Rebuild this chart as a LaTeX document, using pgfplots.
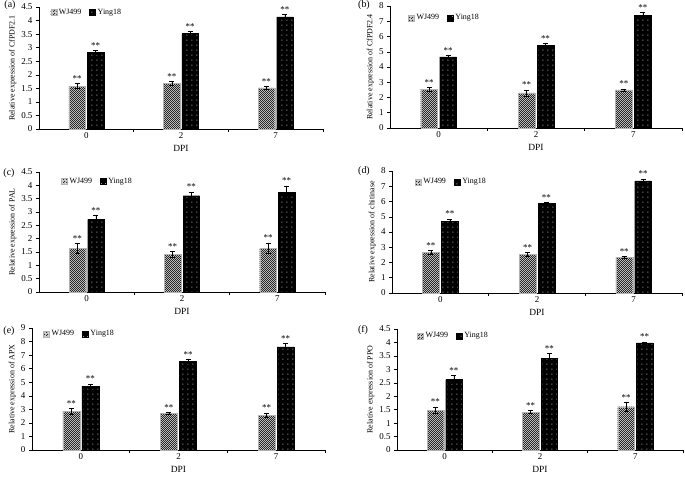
\documentclass[border=0pt]{standalone}
\usepackage{fontspec}
\setmainfont{Liberation Serif}
\usepackage{pgfplots}
\pgfplotsset{compat=1.18}
\usepackage{pgfplotstable}
\usetikzlibrary{patterns}

\pgfdeclarepatternformonly{checker}{\pgfpointorigin}{\pgfqpoint{2.4bp}{2.4bp}}{\pgfqpoint{2.4bp}{2.4bp}}{%
  \pgfpathrectangle{\pgfpointorigin}{\pgfqpoint{1.2bp}{1.2bp}}%
  \pgfpathrectangle{\pgfqpoint{1.2bp}{1.2bp}}{\pgfqpoint{1.2bp}{1.2bp}}%
  \pgfusepath{fill}}
\pgfdeclarepatternformonly{wdots}{\pgfpointorigin}{\pgfqpoint{4.5bp}{4.5bp}}{\pgfqpoint{4.5bp}{4.5bp}}{%
  \pgfpathrectangle{\pgfqpoint{1.5bp}{1.5bp}}{\pgfqpoint{1bp}{1bp}}%
  \pgfusepath{fill}}

\pgfplotstableread{
x wj wje yg yge
0 1.58 0.09 2.82 0.08
1 1.69 0.06 3.52 0.07
2 1.52 0.05 4.14 0.09
}\tabA
\pgfplotstableread{
x wj wje yg yge
0 2.54 0.10 4.67 0.10
1 2.30 0.20 5.44 0.10
2 2.50 0.07 7.41 0.18
}\tabB
\pgfplotstableread{
x wj wje yg yge
0 1.64 0.18 2.72 0.15
1 1.42 0.10 3.61 0.14
2 1.64 0.20 3.73 0.25
}\tabC
\pgfplotstableread{
x wj wje yg yge
0 2.66 0.12 4.71 0.15
1 2.53 0.12 5.88 0.05
2 2.35 0.05 7.36 0.12
}\tabD
\pgfplotstableread{
x wj wje yg yge
0 2.87 0.20 4.71 0.15
1 2.70 0.06 6.52 0.15
2 2.57 0.17 7.60 0.25
}\tabE
\pgfplotstableread{
x wj wje yg yge
0 1.48 0.12 2.62 0.15
1 1.41 0.06 3.42 0.17
2 1.61 0.16 3.98 0.03
}\tabF

\pgfplotsset{
  panel/.style={
    scale only axis,
    axis lines=left,
    axis line style={-, black, line width=0.6pt},
    xmin=-0.5, xmax=2.5, ymin=0,
    xtick={0.5,1.5,2.5}, xticklabels={},
    extra x ticks={0,1,2}, extra x tick labels={0,2,7},
    extra x tick style={major tick length=0pt},
    tick align=outside, major tick length=3bp,
    tick style={black, line width=0.5pt},
    tick label style={font=\fontsize{9}{10}\selectfont},
    /pgf/number format/assume math mode=true,
    xlabel={DPI},
    xlabel style={font=\fontsize{9.5}{10}\selectfont, yshift=3bp},
    ylabel style={font=\fontsize{8}{9}\selectfont, yshift=-2bp},
    ybar, bar width=0.174,
    clip=false,
    legend columns=2,
    legend style={draw=none, fill=none, font=\fontsize{8}{9}\selectfont,
      anchor=north west, inner sep=0pt,
      /tikz/every even column/.append style={column sep=6bp}},
    legend image code/.code={\draw[##1] (0bp,-3bp) rectangle (6bp,3bp);},
  },
  wjstyle/.style={draw=gray!60, line width=0.3pt, fill=gray!35, postaction={pattern=checker, pattern color=black!85}},
  ygstyle/.style={draw=black, line width=0.3pt, fill=black, postaction={pattern=wdots, pattern color=gray!80}},
  star/.style={forget plot, draw=none, fill=none, nodes near coords={**},
    every node near coord/.append style={font=\fontsize{9}{10}\selectfont, inner sep=0pt, anchor=south, yshift=2bp, black}},
}

\newcommand{\bars}[1]{%
  \addplot[wjstyle, bar shift=-0.0975, error bars/.cd, y dir=both, y explicit,
    error bar style={black, line width=0.5pt}, error mark options={rotate=90, mark size=2.5bp, black, line width=0.5pt}]
    table[x=x, y=wj, y error=wje]{#1};
  \addlegendentry{WJ499}
  \addplot[ygstyle, bar shift=0.0975, error bars/.cd, y dir=both, y explicit,
    error bar style={black, line width=0.5pt}, error mark options={rotate=90, mark size=2.5bp, black, line width=0.5pt}]
    table[x=x, y=yg, y error=yge]{#1};
  \addlegendentry{Ying18}
  \addplot[star, bar shift=-0.0975] table[x=x, y expr=\thisrow{wj}+\thisrow{wje}]{#1};
  \addplot[star, bar shift=0.0975] table[x=x, y expr=\thisrow{yg}+\thisrow{yge}]{#1};
}

\begin{document}
\begin{tikzpicture}
\useasboundingbox (0,0) rectangle (685bp,478bp);

% (a)
\begin{axis}[panel, at={(39bp,349bp)}, anchor=south west, width=284bp, height=122bp,
  ymax=4.5, ytick distance=0.5, ylabel={Relative expression of CfPDF2.1},
  legend style={at={(0.04,1.0)}}]
\bars{\tabA}
\end{axis}
% (b)
\begin{axis}[panel, at={(390bp,350bp)}, anchor=south west, width=292bp, height=122bp,
  ymax=8, ytick distance=1, ylabel={Relative expression of CfPDF2.4},
  legend style={at={(0.062,0.947)}}]
\bars{\tabB}
\end{axis}
% (c)
\begin{axis}[panel, at={(39bp,186bp)}, anchor=south west, width=286bp, height=120bp,
  ymax=4.5, ytick distance=0.5, ylabel={Relative expression of PAL},
  legend style={at={(0.077,0.97)}}]
\bars{\tabC}
\end{axis}
% (d)
\begin{axis}[panel, at={(392bp,185bp)}, anchor=south west, width=290bp, height=122bp,
  ymax=8, ytick distance=1, ylabel={Relative expression of chitinase},
  legend style={at={(0.079,0.955)}}]
\bars{\tabD}
\end{axis}
% (e)
\begin{axis}[panel, at={(32bp,28bp)}, anchor=south west, width=293bp, height=122bp,
  ymax=9, ytick distance=1, ylabel={Relative expression of APX},
  legend style={at={(0.038,0.996)}}]
\bars{\tabE}
\end{axis}
% (f)
\begin{axis}[panel, at={(397bp,28bp)}, anchor=south west, width=286bp, height=121bp,
  ymax=4.5, ytick distance=0.5, ylabel={Relative expression of PPO},
  legend style={at={(0.07,0.988)}}]
\bars{\tabF}
\end{axis}

\node[font=\fontsize{10}{11}\selectfont] at (10bp,473bp) {(a)};
\node[font=\fontsize{10}{11}\selectfont] at (364bp,473bp) {(b)};
\node[font=\fontsize{10}{11}\selectfont] at (9bp,305bp) {(c)};
\node[font=\fontsize{10}{11}\selectfont] at (364bp,307bp) {(d)};
\node[font=\fontsize{10}{11}\selectfont] at (9bp,147bp) {(e)};
\node[font=\fontsize{10}{11}\selectfont] at (363bp,148bp) {(f)};
\end{tikzpicture}
\end{document}
